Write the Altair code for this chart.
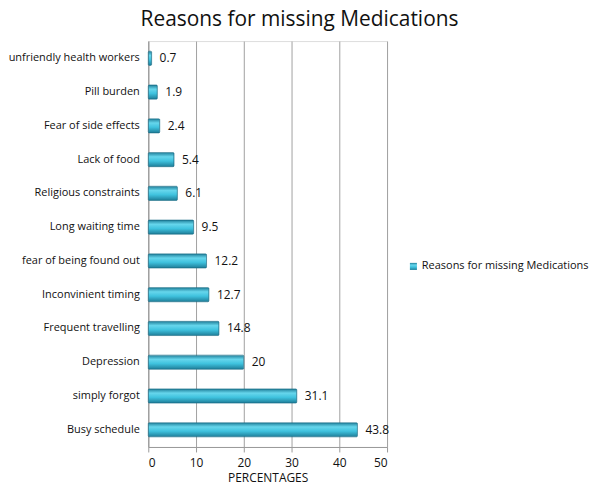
import altair as alt
import pandas as pd

reasons = ["unfriendly health workers", "Pill burden", "Fear of side effects", "Lack of food",
           "Religious constraints", "Long waiting time", "fear of being found out",
           "Inconvinient timing", "Frequent travelling", "Depression", "simply forgot", "Busy schedule"]
values = [0.7, 1.9, 2.4, 5.4, 6.1, 9.5, 12.2, 12.7, 14.8, 20, 31.1, 43.8]
series = "Reasons for missing Medications"

df = pd.DataFrame({"reason": reasons, "value": values, "series": [series] * len(reasons)})

FONT = "Open Sans"

grad = alt.Gradient(
    gradient="linear", x1=0, x2=0, y1=0, y2=1,
    stops=[
        alt.GradientStop(color="#1f7f9a", offset=0),
        alt.GradientStop(color="#66d6ec", offset=0.3),
        alt.GradientStop(color="#3fc2de", offset=0.6),
        alt.GradientStop(color="#1e7d98", offset=1),
    ],
)

y_enc = alt.Y("reason:N", sort=reasons, title=None,
              scale=alt.Scale(paddingInner=0.58, paddingOuter=0.3),
              axis=alt.Axis(ticks=False, labelFont=FONT, labelFontSize=11, labelColor="#111",
                            labelPadding=9, domainColor="#999", labelLimit=300))
x_enc = alt.X("value:Q", title="PERCENTAGES",
              scale=alt.Scale(domain=[0, 50], nice=False),
              axis=alt.Axis(values=[0, 10, 20, 30, 40, 50], grid=True, gridColor="#a0a0a0",
                            domainColor="#999", tickColor="#999", tickSize=5,
                            labelFont=FONT, labelFontSize=12, labelColor="#111", labelPadding=6,
                            titleFont=FONT, titleFontSize=12, titleFontWeight="normal",
                            titleColor="#111", titlePadding=4))

bars = alt.Chart(df).mark_bar(color=grad, stroke="#1b6f88", strokeWidth=0.6, cornerRadius=1).encode(
    y=y_enc, x=x_enc,
    opacity=alt.Opacity("series:N", scale=alt.Scale(range=[1]),
                        legend=alt.Legend(title=None, orient="none", legendX=261, legendY=221,
                                          symbolType="square", symbolFillColor="#3cbfdc",
                                          symbolStrokeColor="#1b6f88", symbolSize=50,
                                          labelOffset=3,
                                          labelFont=FONT, labelFontSize=11, labelColor="#111",
                                          labelLimit=300)),
)

labels = alt.Chart(df).mark_text(align="left", baseline="middle", dx=8, font=FONT,
                                 fontSize=12, color="#111").encode(
    y=alt.Y("reason:N", sort=reasons), x="value:Q", text=alt.Text("value:Q"))

chart = (bars + labels).properties(
    width=240, height=408,
    title=alt.TitleParams(series, font=FONT, fontSize=21, fontWeight="normal", color="#111",
                          anchor="middle", dx=32, offset=11),
    autosize=alt.AutoSizeParams(type="none"),
    padding={"left": 141, "top": 32, "right": 206, "bottom": 42},
).configure_view(stroke=None).configure(background="white")

chart.save("out.html", embed_options={"renderer": "svg", "actions": False})
